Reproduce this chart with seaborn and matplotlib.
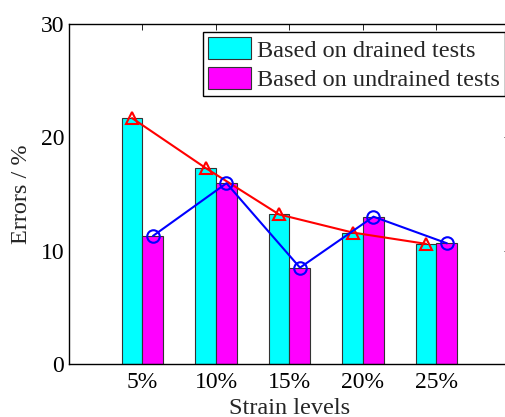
import matplotlib
matplotlib.use("Agg")
import matplotlib.pyplot as plt
import seaborn as sns
import pandas as pd
import numpy as np

categories = ["5%", "10%", "15%", "20%", "25%"]
drained = [21.7, 17.3, 13.2, 11.6, 10.6]
undrained = [11.3, 15.95, 8.5, 13.0, 10.65]
series_names = ["Based on drained tests", "Based on undrained tests"]
yticks = [0, 10, 20, 30]

sns.set_style("white")
plt.rcParams["font.family"] = ["Liberation Serif", "DejaVu Serif"]

FS = 17
FL = 17.5

df = pd.DataFrame({
    "Strain": categories * 2,
    "Error": drained + undrained,
    "Series": [series_names[0]] * len(categories) + [series_names[1]] * len(categories),
})

fig = plt.figure(figsize=(5.06, 4.17), dpi=100)
ax = fig.add_axes([69 / 506, 53 / 417, 441 / 506, 340 / 417])

sns.barplot(data=df, x="Strain", y="Error", hue="Series", order=categories,
            hue_order=series_names, palette=["#00FFFF", "#FF00FF"],
            width=0.57, gap=0, edgecolor="#333333", linewidth=0.8,
            saturation=1, ax=ax, legend=True)

# bar centres from the drawn patches
bars = [p for p in ax.patches if p.get_height() > 0]
nc = len(categories)
cx = [p.get_x() + p.get_width() / 2 for p in bars[:nc]]
mx = [p.get_x() + p.get_width() / 2 for p in bars[nc:2 * nc]]

ax.plot(cx, drained, color="red", lw=1.5, marker="^", ms=9, mfc="none",
        mec="red", mew=1.5, zorder=5)
ax.plot(mx, undrained, color="blue", lw=1.5, marker="o", ms=9, mfc="none",
        mec="blue", mew=1.5, zorder=5)

ax.set_xlim(-1, 5)
ax.set_ylim(0, 30)
ax.set_yticks(yticks)
ax.set_yticklabels([str(t) for t in yticks], fontsize=FS)
ax.set_xticks(range(nc))
ax.set_xticklabels(categories, fontsize=FS)
ax.set_xlabel("Strain levels", fontsize=FL, labelpad=3)
ax.set_ylabel("Errors / %", fontsize=FL)
ax.yaxis.set_label_coords(-0.083, 0.5)
ax.tick_params(direction="in", top=True, right=True, length=4, width=0.6,
               colors="black")
ax.tick_params(axis="y", pad=3.5)
ax.tick_params(axis="x", pad=6)
for s in ax.spines.values():
    s.set_color("black")
    s.set_linewidth(1.0)

handles, labels = ax.get_legend_handles_labels()
leg = ax.legend(handles[:2], labels[:2], loc="upper right",
                bbox_to_anchor=(505 / 506, 1 - 32 / 417),
                bbox_transform=fig.transFigure, fontsize=FL, frameon=True,
                fancybox=False, edgecolor="black", framealpha=1,
                handlelength=1.75, handleheight=1.0, handletextpad=0.25,
                borderpad=0.22, labelspacing=0.22, borderaxespad=0)
leg.get_frame().set_linewidth(1.0)
for p in leg.get_patches():
    p.set_edgecolor("#333333")

fig.savefig("out.png", dpi=100)
